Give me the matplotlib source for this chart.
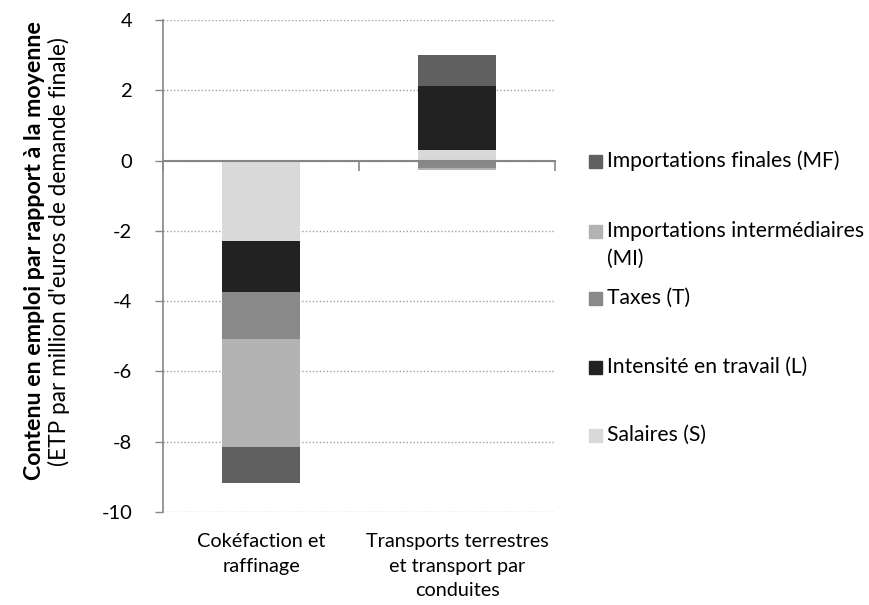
import matplotlib
matplotlib.use("Agg")
import matplotlib.pyplot as plt
from matplotlib.patches import Rectangle
import numpy as np

plt.rcParams['font.family'] = ['Lato', 'DejaVu Sans']

categories = ["Cokéfaction et\nraffinage", "Transports terrestres\net transport par\nconduites"]
series_names = ["Salaires (S)", "Intensité en travail (L)", "Taxes (T)",
                "Importations intermédiaires\n(MI)", "Importations finales (MF)"]
S = [-2.29, 0.29]
L = [-1.44, 1.82]
T = [-1.35, -0.21]
MI = [-3.07, -0.06]
MF = [-1.02, 0.89]
colors = ["#d9d9d9", "#222222", "#898989", "#b3b3b3", "#606060"]
yticks = [4, 2, 0, -2, -4, -6, -8, -10]

W, H = 869, 605
fig = plt.figure(figsize=(W / 100, H / 100), dpi=100)
ax = fig.add_axes([163 / W, 1 - 512 / H, (555 - 163) / W, (512 - 20) / H])

x = np.arange(len(categories))
pos_bottom = np.zeros(len(categories))
neg_bottom = np.zeros(len(categories))
for vals, c in zip([S, L, T, MI, MF], colors):
    v = np.array(vals, dtype=float)
    bottoms = np.where(v >= 0, pos_bottom, neg_bottom)
    ax.bar(x, v, bottom=bottoms, width=0.4, color=c, edgecolor='none', zorder=3)
    pos_bottom += np.where(v >= 0, v, 0)
    neg_bottom += np.where(v < 0, v, 0)

ax.set_xlim(-0.5, 1.5)
ax.set_ylim(-10, 4)
ax.set_yticks(yticks)
ax.set_yticklabels([str(t) for t in yticks], fontsize=14.5)
ax.yaxis.grid(True, linestyle=(0, (1, 1.5)), color='#a0a0a0', linewidth=1, zorder=0)
gc = '#868686'
for s in ['top', 'right']:
    ax.spines[s].set_visible(False)
ax.spines['left'].set_color(gc)
ax.spines['left'].set_linewidth(1.2)
ax.spines['bottom'].set_position(('data', 0))
ax.spines['bottom'].set_color(gc)
ax.spines['bottom'].set_linewidth(1.5)
ax.spines['bottom'].set_zorder(4)
ax.tick_params(axis='y', direction='out', length=6, color=gc, width=1, pad=16, labelcolor='black')
ax.set_xticks([-0.5, 0.5, 1.5])
ax.set_xticklabels([])
ax.tick_params(axis='x', direction='out', length=7, color=gc, width=1.2)

for xi, lab in zip(x, categories):
    ax.text(xi, -10.6, lab, ha='center', va='top', fontsize=14.3, linespacing=1.55)

# y label
fig.text(35 / W, 1 - 251 / H, "Contenu en emploi par rapport à la moyenne", rotation=90,
         ha='center', va='center', fontsize=16.7, fontweight='bold')
fig.text(59 / W, 1 - 252 / H, "(ETP par million d'euros de demande finale)", rotation=90,
         ha='center', va='center', fontsize=16.3)

# legend
leg_items = [("Importations finales (MF)", colors[4], 161),
             ("Importations intermédiaires", colors[3], 231),
             ("Taxes (T)", colors[2], 298),
             ("Intensité en travail (L)", colors[1], 367),
             ("Salaires (S)", colors[0], 435)]
for lab, c, yy in leg_items:
    fig.patches.append(Rectangle((589 / W, 1 - (yy + 6.5) / H), 13 / W, 13 / H,
                                 transform=fig.transFigure, color=c, figure=fig))
    fig.text(607 / W, 1 - yy / H, lab, ha='left', va='center', fontsize=15.2)
fig.text(607 / W, 1 - 259 / H, "(MI)", ha='left', va='center', fontsize=15.2)

fig.savefig("out.png", dpi=100)
